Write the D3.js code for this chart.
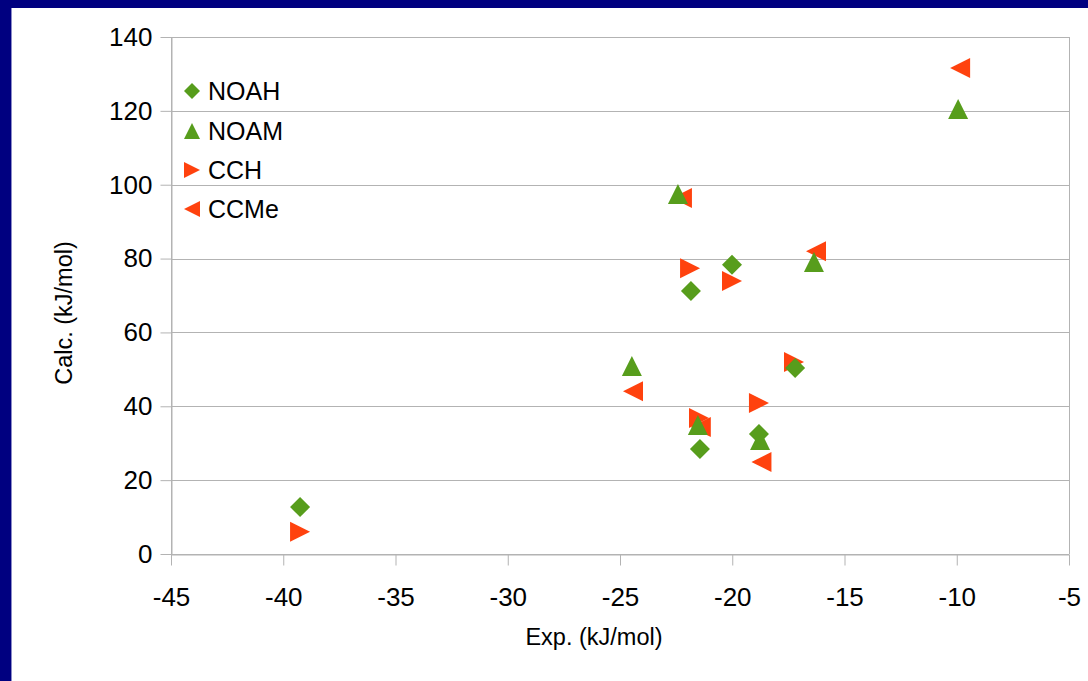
<!DOCTYPE html>
<html>
<head>
<meta charset="utf-8">
<script src="https://cdn.jsdelivr.net/npm/d3@7"></script>
<style>
  html, body { margin: 0; padding: 0; background: #ffffff; }
  svg { display: block; font-family: "Liberation Sans", Arial, sans-serif; }
</style>
</head>
<body>
<svg id="chart" width="1088" height="681"></svg>
<script>
// Series: experimental vs calculated energies (kJ/mol)
const seriesNames = ["NOAH", "NOAM", "CCH", "CCMe"];
const noahExp  = [-39.25, -21.84, -20.01, -21.44, -18.81, -17.2];
const noahCalc = [12.7, 71.2, 78.3, 28.4, 32.5, 50.4];
const noamExp  = [-22.42, -9.94, -16.36, -24.47, -21.53, -18.76];
const noamCalc = [97.5, 120.5, 79.1, 50.9, 34.9, 30.9];
const cchExp   = [-39.25, -21.88, -20.01, -21.48, -18.81, -17.25];
const cchCalc  = [6.0, 77.4, 73.9, 36.8, 40.9, 52.0];
const ccmeExp  = [-9.85, -16.27, -24.42, -18.7, -22.24, -21.4];
const ccmeCalc = [131.6, 82.0, 44.1, 24.9, 96.4, 34.4];
const xTicks = [-45, -40, -35, -30, -25, -20, -15, -10, -5];
const yTicks = [0, 20, 40, 60, 80, 100, 120, 140];
const xTitle = "Exp. (kJ/mol)";
const yTitle = "Calc. (kJ/mol)";

const green = "#579d1c", orange = "#ff420e", grid = "#b3b3b3";

const svg = d3.select("#chart");

// frame
svg.append("rect").attr("x", 0).attr("y", 0).attr("width", 1088).attr("height", 681).attr("fill", "#000080");
svg.append("rect").attr("x", 11).attr("y", 8).attr("width", 1077).attr("height", 673).attr("fill", "#ffffff");
svg.append("line").attr("x1", 11.5).attr("x2", 11.5).attr("y1", 8).attr("y2", 681).attr("stroke", "#8c8cc8").attr("stroke-width", 1);

const x = d3.scaleLinear().domain([-45, -5]).range([171, 1069]);
const y = d3.scaleLinear().domain([0, 140]).range([554, 37]);

// horizontal gridlines
svg.append("g").selectAll("line").data(yTicks).join("line")
  .attr("x1", x(-45)).attr("x2", x(-5))
  .attr("y1", d => Math.round(y(d)) + 0.5).attr("y2", d => Math.round(y(d)) + 0.5)
  .attr("stroke", grid).attr("stroke-width", 1);

// plot edges (left axis, right edge)
[-45, -5].forEach(v => {
  svg.append("line")
    .attr("x1", Math.round(x(v)) + 0.5).attr("x2", Math.round(x(v)) + 0.5)
    .attr("y1", y(140)).attr("y2", y(0))
    .attr("stroke", grid).attr("stroke-width", 1);
});

// x axis
const xAxis = svg.append("g")
  .attr("transform", `translate(0,${Math.round(y(0)) + 0.5})`)
  .call(d3.axisBottom(x).tickValues(xTicks).tickSizeInner(11).tickSizeOuter(0).tickPadding(22).tickFormat(d3.format("d")));
xAxis.select(".domain").attr("stroke", grid);
xAxis.selectAll(".tick line").attr("stroke", grid);
xAxis.selectAll(".tick text").attr("font-size", 26).attr("fill", "#000")
  .attr("font-family", "Liberation Sans, Arial, sans-serif").text(d => String(d).replace("−", "-"));

// y axis
const yAxis = svg.append("g")
  .attr("transform", `translate(${Math.round(x(-45)) + 0.5},0)`)
  .call(d3.axisLeft(y).tickValues(yTicks).tickSizeInner(11).tickSizeOuter(0).tickPadding(8).tickFormat(d3.format("d")));
yAxis.select(".domain").attr("stroke", grid);
yAxis.selectAll(".tick line").attr("stroke", grid);
yAxis.selectAll(".tick text").attr("font-size", 26).attr("fill", "#000")
  .attr("font-family", "Liberation Sans, Arial, sans-serif");

// axis titles
svg.append("text").attr("x", 594).attr("y", 645).attr("text-anchor", "middle")
  .attr("font-size", 23.5).attr("fill", "#000").text(xTitle);
svg.append("text").attr("transform", "translate(72,313) rotate(-90)").attr("text-anchor", "middle")
  .attr("font-size", 23.5).attr("fill", "#000").text(yTitle);

// marker shapes, centred on the origin, r = half extent
const shapes = {
  diamond: r => `M0,${-r}L${r},0L0,${r}L${-r},0Z`,
  up:      r => `M0,${-r}L${r},${r}L${-r},${r}Z`,
  right:   r => `M${r},0L${-r},${r}L${-r},${-r}Z`,
  left:    r => `M${-r},0L${r},${-r}L${r},${r}Z`
};

const series = [
  { name: seriesNames[0], xs: noahExp, ys: noahCalc, color: green,  shape: "diamond" },
  { name: seriesNames[1], xs: noamExp, ys: noamCalc, color: green,  shape: "up" },
  { name: seriesNames[2], xs: cchExp,  ys: cchCalc,  color: orange, shape: "right" },
  { name: seriesNames[3], xs: ccmeExp, ys: ccmeCalc, color: orange, shape: "left" }
];

// points: later series first so green markers sit on top
series.slice().reverse().forEach(s => {
  svg.append("g").selectAll("path")
    .data(s.xs.map((v, i) => ({ x: v, y: s.ys[i] })))
    .join("path")
    .attr("transform", d => `translate(${x(d.x)},${y(d.y)})`)
    .attr("d", shapes[s.shape](10))
    .attr("fill", s.color);
});

// legend
const legend = svg.append("g");
const legendY = [91, 131, 170, 209];
series.forEach((s, i) => {
  legend.append("path").attr("transform", `translate(192,${legendY[i]})`)
    .attr("d", shapes[s.shape](8)).attr("fill", s.color);
  legend.append("text").attr("x", 208).attr("y", legendY[i] + 9).attr("font-size", 25)
    .attr("fill", "#000").text(s.name);
});
</script>
</body>
</html>
